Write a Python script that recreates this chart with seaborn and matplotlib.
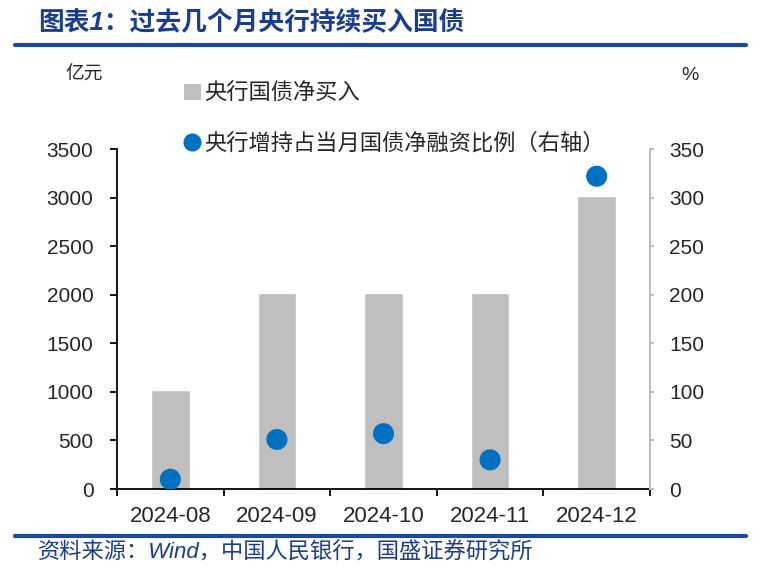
import pandas as pd
import matplotlib.pyplot as plt
import seaborn as sns
from matplotlib.lines import Line2D
from matplotlib.patches import Patch

months = ['2024-08', '2024-09', '2024-10', '2024-11', '2024-12']
net_buy = [1020, 2020, 2020, 2020, 3020]          # 央行国债净买入（亿元）
ratio = [10, 51, 57, 30, 322]                     # 占当月国债净融资比例（%）

df = pd.DataFrame({'月份': months, '净买入': net_buy, '比例': ratio})

sns.set_style('white')
plt.rcParams['font.family'] = ['Liberation Sans', 'Noto Sans CJK SC']

fig = plt.figure(figsize=(7.57, 5.71), dpi=100)
ax = fig.add_axes([0.1546, 0.1436, 0.704, 0.5954])

sns.barplot(x='月份', y='净买入', data=df, color='#BFBFBF', width=0.36,
            saturation=1, ax=ax)
ax2 = ax.twinx()
sns.scatterplot(x='月份', y='比例', data=df, color='#0070C0', s=230,
                edgecolor='none', ax=ax2, zorder=5)

ax.set_ylim(0, 3500)
ax.set_yticks(range(0, 3501, 500))
ax2.set_ylim(0, 350)
ax2.set_yticks(range(0, 351, 50))
ax.set_xlim(-0.5, 4.5)

ax.set_xticks(range(5))
ax.set_xticklabels(months)
ax.set_xticks([i - 0.5 for i in range(6)], minor=True)
ax.tick_params(axis='x', which='major', length=0, labelsize=16, pad=12)
ax.tick_params(axis='x', which='minor', length=5, width=1.3, color='black',
               direction='out', bottom=True)
ax.tick_params(axis='y', length=5, width=1.3, color='black', labelsize=15,
               direction='out', left=True, pad=12)
ax2.tick_params(axis='y', length=3, width=1.5, color='#BFBFBF', labelsize=15,
                direction='out', right=True, pad=11)
ax.set_xlabel('')
ax.set_ylabel('')
ax2.set_ylabel('')

for sp in ['top', 'right']:
    ax.spines[sp].set_visible(False)
ax2.spines['top'].set_visible(False)
ax2.spines['left'].set_visible(False)
ax2.spines['bottom'].set_visible(False)
ax2.spines['right'].set_color('#BFBFBF')
ax2.spines['right'].set_linewidth(1.5)
ax.spines['left'].set_color('black')
ax.spines['left'].set_linewidth(1.3)
ax.spines['bottom'].set_color('black')
ax.spines['bottom'].set_linewidth(1.3)

handles = [Patch(facecolor='#BFBFBF', edgecolor='none'),
           Line2D([], [], marker='o', color='none', markerfacecolor='#0070C0',
                  markeredgecolor='none', markersize=13)]
labels = ['央行国债净买入', '央行增持占当月国债净融资比例（右轴）']
fig.legend(handles, labels, loc='upper left', bbox_to_anchor=(0.243, 0.853),
           frameon=False, fontsize=16, labelspacing=1.27, handlelength=0.75,
           handleheight=0.75, handletextpad=0.15, borderaxespad=0,
           borderpad=0)

fig.text(0.086, 0.868, '亿元', fontsize=13.5, ha='left', va='center')
fig.text(0.912, 0.868, '%', fontsize=14, ha='center', va='center')

fig.text(0.05, 0.962, '图表1：过去几个月央行持续买入国债', fontsize=18.5,
         fontweight='bold', style='italic', color='#1A3D8F', ha='left',
         va='center')
fig.text(0.05, 0.032, '资料来源：Wind，中国人民银行，国盛证券研究所', fontsize=16,
         style='italic', color='#1A3D8F', ha='left', va='center')

fig.add_artist(Line2D([0.02, 0.985], [0.921, 0.921], color='#1A4A9A',
                      linewidth=3, transform=fig.transFigure))
fig.add_artist(Line2D([0.02, 0.985], [0.061, 0.061], color='#1A4A9A',
                      linewidth=3, transform=fig.transFigure))

fig.savefig('out.png', dpi=100)
